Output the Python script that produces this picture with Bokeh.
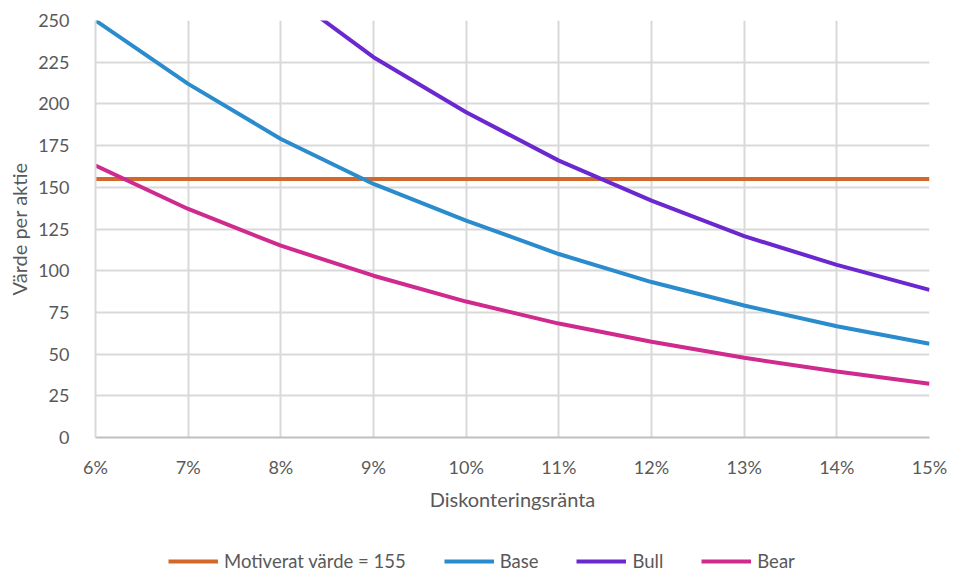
from bokeh.plotting import figure
from bokeh.layouts import column
from bokeh.models import FixedTicker, Legend, LegendItem, Range1d
from bokeh.embed import file_html
from bokeh.resources import INLINE

rates = [6, 7, 8, 9, 10, 11, 12, 13, 14, 15]
rate_labels = ["6%", "7%", "8%", "9%", "10%", "11%", "12%", "13%", "14%", "15%"]
motiverat = [155, 155, 155, 155, 155, 155, 155, 155, 155, 155]
base = [250, 212, 179, 152, 130, 110, 93.2, 79.1, 66.7, 56.2]
bull = [375, 318, 269, 228, 195, 166, 142, 120.7, 103.5, 88.5]
bear = [163, 137, 115, 97, 81.5, 68.3, 57.4, 47.8, 39.6, 32.2]
y_ticks = [0, 25, 50, 75, 100, 125, 150, 175, 200, 225, 250]
series_names = ["Motiverat värde = 155", "Base", "Bull", "Bear"]
series_colors = ["#D2692B", "#2A8CCD", "#6B28CE", "#CF2A8D"]
series_values = [motiverat, base, bull, bear]

FONT = "Lato"
TXT = "#595959"

p = figure(frame_width=834, frame_height=417, output_backend="svg", toolbar_location=None,
           x_range=Range1d(6, 15), y_range=Range1d(0, 250),
           min_border_left=95, min_border_right=24, min_border_top=20,
           min_border_bottom=83)
p.outline_line_color = None
p.background_fill_color = "white"
p.border_fill_color = "white"

for ys, c in zip(series_values, series_colors):
    p.line(rates, ys, line_color=c, line_width=4)

p.xaxis.ticker = FixedTicker(ticks=rates)
p.xaxis.major_label_overrides = {r: l for r, l in zip(rates, rate_labels)}
p.yaxis.ticker = FixedTicker(ticks=y_ticks)

for ax in (p.xaxis, p.yaxis):
    ax.major_tick_line_color = None
    ax.minor_tick_line_color = None
    ax.major_label_text_font = FONT
    ax.major_label_text_font_size = "18px"
    ax.major_label_text_color = TXT
    ax.axis_label_text_font = FONT
    ax.axis_label_text_font_size = "20px"
    ax.axis_label_text_color = TXT
    ax.axis_label_text_font_style = "normal"

p.xaxis.axis_line_color = "#BFBFBF"
p.xaxis.axis_line_width = 2
p.yaxis.axis_line_color = "#D9D9D9"
p.yaxis.axis_line_width = 2
p.xaxis.major_label_standoff = 12
p.yaxis.major_label_standoff = 20
p.xaxis.axis_label = "Diskonteringsränta"
p.yaxis.axis_label = "Värde per aktie"
p.xaxis.axis_label_standoff = 6
p.yaxis.axis_label_standoff = 4

p.xgrid.ticker = FixedTicker(ticks=rates)
p.ygrid.ticker = FixedTicker(ticks=y_ticks)
p.grid.grid_line_color = "#D9D9D9"
p.grid.grid_line_width = 2

# legend strip below the chart (series drawn off-screen, only the legend shows)
lp = figure(frame_width=953, frame_height=52, output_backend="svg", toolbar_location=None,
            x_range=Range1d(0, 1), y_range=Range1d(0, 1),
            min_border_left=0, min_border_right=0, min_border_top=0, min_border_bottom=0)
lp.axis.visible = False
lp.grid.visible = False
lp.outline_line_color = None
lp.border_fill_color = "white"

items = []
for name, ys, c in zip(series_names, series_values, series_colors):
    r = lp.line(rates, ys, line_color=c, line_width=4)
    items.append(LegendItem(label=name, renderers=[r]))

legend = Legend(items=items, orientation="horizontal", location=(168, 0))
legend.label_text_font = FONT
legend.label_text_font_size = "18.5px"
legend.label_text_color = TXT
legend.glyph_width = 50
legend.label_standoff = 6
legend.spacing = 38
legend.border_line_color = None
legend.background_fill_alpha = 0
legend.margin = 0
legend.padding = 0
legend.label_height = 16
legend.glyph_height = 16
lp.add_layout(legend, "center")

layout = column(p, lp, spacing=0)
open("out.html", "w").write(file_html(layout, INLINE))
